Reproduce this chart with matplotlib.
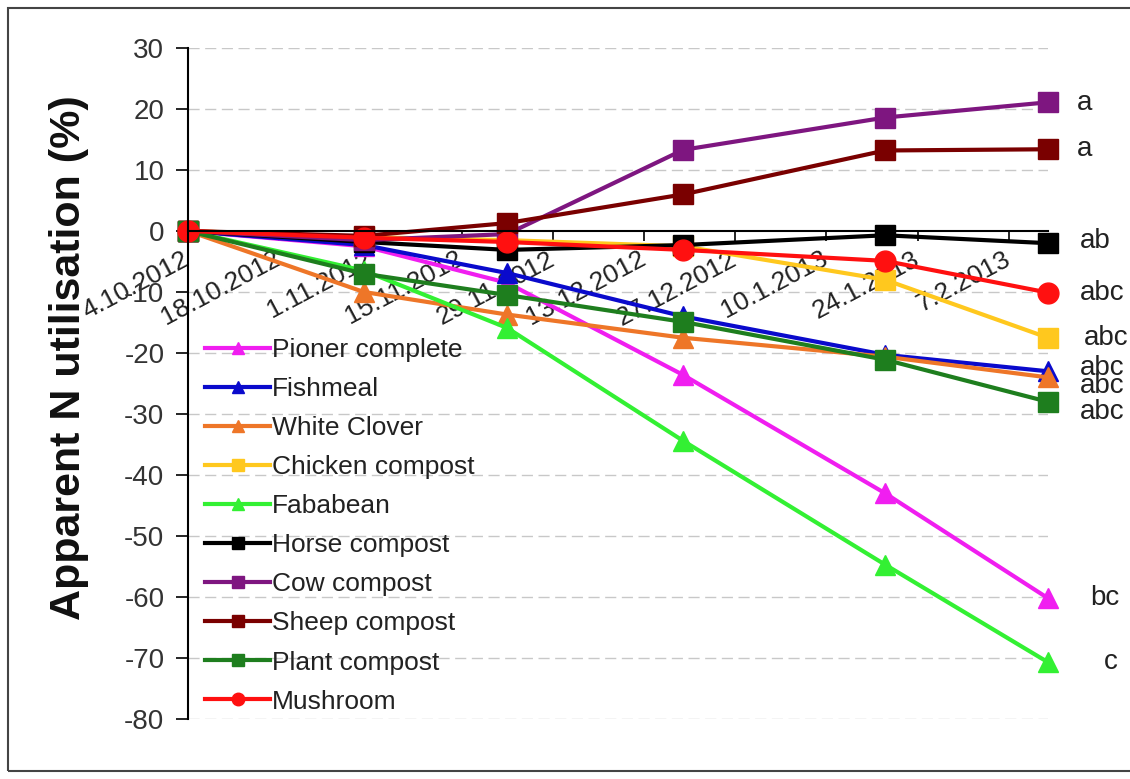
import matplotlib
matplotlib.use("Agg")
import matplotlib.pyplot as plt
from matplotlib.patches import Rectangle
import pandas as pd

plt.rcParams["font.family"] = ["Liberation Sans", "DejaVu Sans"]
plt.rcParams["axes.unicode_minus"] = False

# Sampling dates and axis tick labels
sample_dates = ["4.10.2012", "31.10.2012", "22.11.2012", "19.12.2012", "19.1.2013", "13.2.2013"]
tick_labels = ["4.10.2012", "18.10.2012", "1.11.2012", "15.11.2012", "29.11.2012",
               "13.12.2012", "27.12.2012", "10.1.2013", "24.1.2013", "7.2.2013"]

# Apparent N utilisation (%) per treatment
pioner_complete = [0, -2.5, -8.5, -23.6, -43.0, -60.2]
fishmeal = [0, -2.3, -6.9, -14.0, -20.3, -23.0]
white_clover = [0, -10.0, -13.7, -17.5, -20.6, -24.0]
chicken_compost = [0, -1.0, -1.5, -2.5, -8.0, -17.5]
fababean = [0, -6.5, -15.9, -34.4, -54.7, -70.7]
horse_compost = [0, -1.8, -3.1, -2.3, -0.7, -2.0]
cow_compost = [0, -1.5, -0.5, 13.3, 18.6, 21.1]
sheep_compost = [0, -0.8, 1.3, 6.0, 13.2, 13.4]
plant_compost = [0, -7.0, -10.5, -14.9, -21.1, -28.0]
mushroom = [0, -1.1, -1.8, -3.1, -4.9, -10.1]

series_names = ["Pioner complete", "Fishmeal", "White Clover", "Chicken compost", "Fababean",
                "Horse compost", "Cow compost", "Sheep compost", "Plant compost", "Mushroom"]
series_values = [pioner_complete, fishmeal, white_clover, chicken_compost, fababean,
                 horse_compost, cow_compost, sheep_compost, plant_compost, mushroom]
significance = ["bc", "abc", "abc", "abc", "c", "ab", "a", "a", "abc", "abc"]

colors = ["#F01EF0", "#0A0ACC", "#EE7628", "#FFC81E", "#33F033",
          "#000000", "#7E1680", "#7A0000", "#1E7E1E", "#FF1010"]
markers = ["^", "^", "^", "s", "^", "s", "s", "s", "s", "o"]
# label placement relative to the final point, in pixels
label_offsets = [(42, 0), (32, 3), (32, -9), (36, 0), (56, 0),
                 (32, 2), (29, -1), (29, 0), (32, -10), (32, 0)]

fmt = "%d.%m.%Y"
x = pd.to_datetime(sample_dates, format=fmt)
ticks = pd.to_datetime(tick_labels, format=fmt)

fig = plt.figure(figsize=(11.3, 7.79), dpi=100)
fig.patch.set_facecolor("white")
ax = fig.add_axes([188 / 1130, 1 - 719 / 779, (1048 - 188) / 1130, (719 - 48) / 779])

# axis line through zero (set before tick styling, since it resets the ticks)
ax.spines["bottom"].set_position(("data", 0))
ax.spines["bottom"].set_linewidth(1.5)
ax.spines["left"].set_linewidth(1.5)
ax.spines["top"].set_visible(False)
ax.spines["right"].set_visible(False)

for name, vals, c, m, lab, off in zip(series_names, series_values, colors, markers,
                                      significance, label_offsets):
    ms = 15 if m != "^" else 14
    ax.plot(x, vals, color=c, lw=3, marker=m, markersize=ms, label=name,
            markeredgecolor=c, clip_on=False)
    ax.annotate(lab, xy=(x[-1], vals[-1]), xytext=off, textcoords="offset pixels",
                ha="left", va="center", fontsize=20, color="#222222",
                annotation_clip=False)

ax.set_ylim(-80, 30)
ax.set_yticks(range(-80, 31, 10))
ax.set_xlim(x[0], x[-1])
ax.set_xticks(ticks)
ax.set_xticklabels(tick_labels, rotation=28, ha="right", va="center",
                   rotation_mode="anchor", fontsize=19, color="#222222")
ax.tick_params(axis="x", direction="out", length=7, width=1.2, pad=12)
ax.tick_params(axis="y", direction="out", length=9, width=1.2, labelsize=20,
               labelcolor="#333333", pad=8)

for v in range(-80, 31, 10):
    if v != 0:
        ax.axhline(v, color="#C8C8C8", lw=1.0, ls=(0, (8, 4)), zorder=0)

ax.set_ylabel("Apparent N utilisation (%)", fontsize=31, fontweight="bold",
              color="#111111")
ax.yaxis.set_label_coords(-0.115, 0.538)

leg = ax.legend(loc="upper left", bbox_to_anchor=(192 / 1130, 1 - 325 / 779),
                bbox_transform=fig.transFigure, frameon=False, fontsize=19,
                handlelength=2.45, handletextpad=0.08, labelspacing=0.57,
                borderpad=0, markerscale=0.6)
for t in leg.get_texts():
    t.set_color("#222222")

fig.add_artist(Rectangle((8 / 1130, 8 / 779), 1130 / 1130, 763 / 779,
                         transform=fig.transFigure, fill=False,
                         edgecolor="#444444", lw=1.5))

fig.savefig("out.png", dpi=100)
